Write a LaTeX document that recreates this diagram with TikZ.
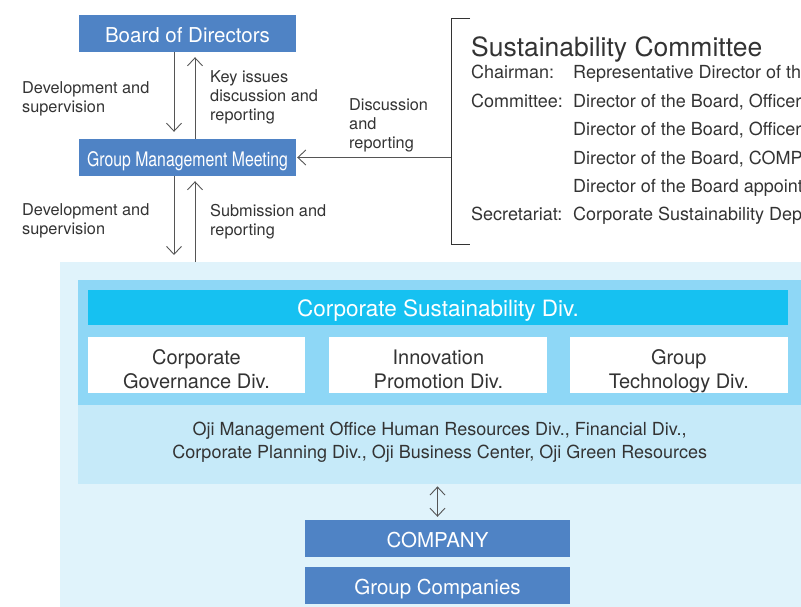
\documentclass[tikz,border=0pt]{standalone}
\usepackage{fontspec}
\setmainfont{TeX Gyre Heros}
\newfontfamily\condfont[FakeStretch=0.79]{TeX Gyre Heros}
\usetikzlibrary{arrows.meta,positioning}
\definecolor{boxblue}{RGB}{79,131,197}
\definecolor{bglight}{RGB}{224,243,251}
\definecolor{panelmid}{RGB}{142,215,246}
\definecolor{panellight}{RGB}{198,234,249}
\definecolor{barcyan}{RGB}{22,193,241}
\definecolor{textgray}{RGB}{51,51,51}
\definecolor{arrowgray}{RGB}{85,85,85}

\begin{document}
\begin{tikzpicture}[x=1pt, y=-1pt, >={Straight Barb[length=8pt,width=15pt]},
  bluebox/.style={fill=boxblue, text=white, inner sep=0pt, minimum width=217pt, minimum height=37pt, text height=21.5pt, text depth=4pt, font=\fontsize{20.5}{24}\selectfont},
  widebox/.style={bluebox, minimum width=265pt},
  whitebox/.style={fill=white, text=textgray, inner sep=0pt, align=center, minimum width=217pt, minimum height=56pt, text height=51pt, text depth=4pt, font=\fontsize{20}{24}\selectfont},
  lbl/.style={anchor=north west, inner sep=0pt, align=left, text=textgray, font=\fontsize{16.3}{19}\selectfont},
  sctext/.style={anchor=base west, inner sep=0pt, text=textgray, font=\fontsize{18}{22}\selectfont},
  arr/.style={draw=arrowgray, line width=0.9pt},
  panel/.style={anchor=north west, inner sep=0pt, minimum width=723pt}]
\useasboundingbox (0,0) rectangle (801,607);

% top of the structure
\node[bluebox] (board) at (187.5,33.5) {Board of Directors};
\node[bluebox, font=\condfont\fontsize{20}{24}\selectfont] (gmm) at (187.5,157.5) {Group Management Meeting};

% lower area with the divisions
\node[fill=bglight, anchor=north west, inner sep=0pt, minimum width=741pt, minimum height=345pt] (area) at (60,262) {};
\node[panel, fill=panelmid, minimum height=125pt] (divpanel) at (78,280) {};
\node[panel, fill=panellight, minimum height=79pt] (ojipanel) at (78,405) {};
\node[fill=barcyan, text=white, inner sep=0pt, minimum width=700pt, minimum height=35pt, text height=21.6pt, text depth=4pt, font=\fontsize{22.5}{26}\selectfont] (csd) at (438,307.5) {Corporate Sustainability Div.};
\node[whitebox, below=12pt of csd.south west, anchor=north west] (cgd) {Corporate\\Governance Div.};
\node[whitebox, right=24pt of cgd, minimum width=218pt] (ipd) {Innovation\\Promotion Div.};
\node[whitebox, right=22pt of ipd, minimum width=218pt] (gtd) {Group\\Technology Div.};
\node[align=center, text=textgray, font=\fontsize{18}{23}\selectfont] (oji) at ([yshift=2pt]ojipanel.center) {Oji Management Office Human Resources Div., Financial Div.,\\Corporate Planning Div., Oji Business Center, Oji Green Resources};
\node[widebox] (company) at (437.5,538.5) {COMPANY};
\node[widebox, below=10pt of company] (groupco) {Group Companies};

% sustainability committee
\node[anchor=base west, inner sep=0pt, text=textgray, font=\fontsize{26.5}{30}\selectfont] (sctitle) at (471,57) {Sustainability Committee};
\node[sctext] (chair) at (471,79) {Chairman:};
\node[sctext] (chairv) at (573,79) {Representative Director of the};
\node[sctext] (memb) at (471,107.4) {Committee:};
\node[sctext] (membv1) at (573,107.4) {Director of the Board, Officer};
\node[sctext] (membv2) at (573,135.8) {Director of the Board, Officer};
\node[sctext] (membv3) at (573,164.2) {Director of the Board, COMPANY};
\node[sctext] (membv4) at (573,192.6) {Director of the Board appointed};
\node[sctext] (secr) at (471,221) {Secretariat:};
\node[sctext] (secrv) at (573,221) {Corporate Sustainability Dept.};
\coordinate (brtop) at (451,18);
\coordinate (brbot) at (451,244);
\draw[draw=textgray, line width=0.9pt] ([xshift=19pt]brtop) -- (brtop) -- (brbot) -- ([xshift=19pt]brbot);

% labels
\node[lbl] (devsup1) at (22,81) {Development and\\supervision};
\node[lbl] (keyiss) at (210,70) {Key issues\\discussion and\\reporting};
\node[lbl] (discrep) at (349,98) {Discussion\\and\\reporting};
\node[lbl] (devsup2) at (22,203) {Development and\\supervision};
\node[lbl] (subrep) at (210,204) {Submission and\\reporting};

% connectors
\draw[arr, ->, shorten >=7pt] ([xshift=-13.5pt]board.south) -- ([xshift=-13.5pt]gmm.north);
\draw[arr, ->, shorten >=5pt] ([xshift=7.5pt]gmm.north) -- ([xshift=7.5pt]board.south);
\draw[arr, ->, shorten >=7pt] ([xshift=-13.5pt]gmm.south) -- ([xshift=-13.5pt]gmm.south |- area.north);
\draw[arr, ->, shorten >=5pt] ([xshift=7.5pt]gmm.south |- area.north) -- ([xshift=7.5pt]gmm.south);
\draw[arr, ->, shorten >=1pt] (brtop |- gmm.east) -- (gmm.east);
\draw[arr, <->, shorten <=2pt, shorten >=3pt] (ojipanel.south -| company.north) -- (company.north);
\end{tikzpicture}
\end{document}
